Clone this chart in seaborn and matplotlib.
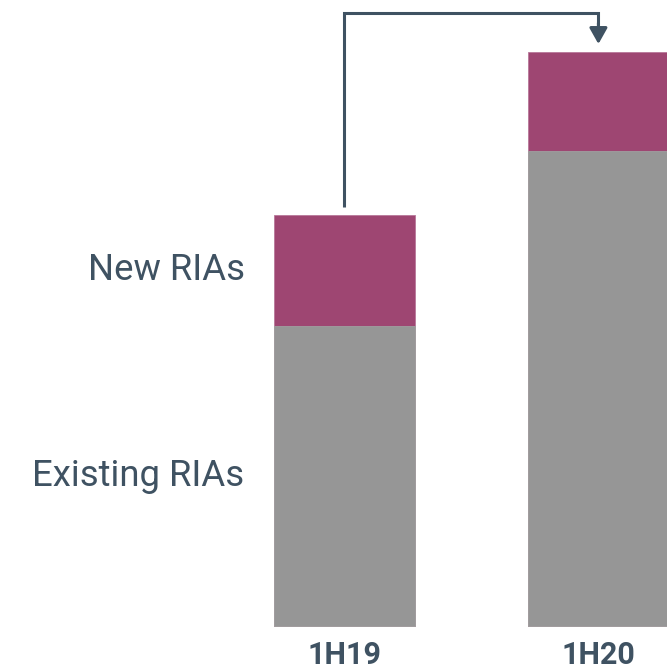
import matplotlib
matplotlib.use("Agg")
import matplotlib.pyplot as plt
import seaborn as sns
import pandas as pd

periods = ["1H19", "1H20"]
existing = [300, 475]
new = [111, 99]
segment_labels = ["New RIAs", "Existing RIAs"]

sns.set_theme(style="white")
plt.rcParams["font.family"] = ["Roboto", "DejaVu Sans"]

TEXT = "#3f5262"
PURPLE = "#9e4672"
GRAY = "#969696"

totals = [e + n for e, n in zip(existing, new)]
df = pd.DataFrame({"period": periods, "existing": existing, "total": totals})

fig = plt.figure(figsize=(6.67, 6.69), dpi=100)
ax = fig.add_axes([0, 0, 1, 1])

sns.barplot(data=df, x="period", y="total", color=PURPLE, width=0.555,
            saturation=1, ax=ax, edgecolor="#b8789a", linewidth=0.6)
sns.barplot(data=df, x="period", y="existing", color=GRAY, width=0.555,
            saturation=1, ax=ax, edgecolor="#a0a0a0", linewidth=0.6)

ax.set_xlim(-1.356, 1.270)
ax.set_ylim(-43, 626)
ax.axis("off")

# tick labels
for i, p in enumerate(periods):
    ax.text(i, -37.5, p, ha="center", va="baseline", fontsize=22,
            fontweight="bold", color=TEXT)

# segment labels
ax.text(-0.393, existing[0] + new[0] / 2, segment_labels[0], ha="right",
        va="center", fontsize=26.3, color=TEXT)
ax.text(-0.393, existing[0] / 2, segment_labels[1], ha="right",
        va="center", fontsize=26.3, color=TEXT)

# connector arrow
gap = 8
top_y = 613
ax.plot([0, 0, 1, 1], [totals[0] + gap, top_y, top_y, top_y - 12],
        color="#3f5262", lw=2.2, solid_capstyle="butt", solid_joinstyle="miter")
ax.annotate("", xy=(1, totals[1] + gap), xytext=(1, top_y - 10),
            arrowprops=dict(arrowstyle="-|>,head_length=0.8,head_width=0.45",
                            color="#3f5262", lw=2.2, shrinkA=0, shrinkB=0))

fig.savefig("out.png", dpi=100)
